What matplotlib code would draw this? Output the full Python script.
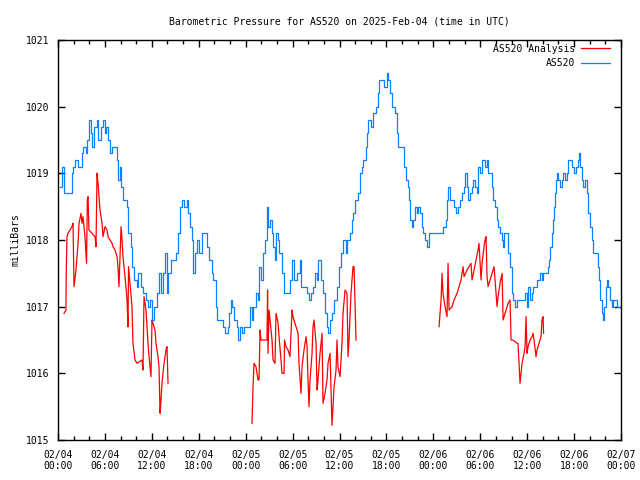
import matplotlib
matplotlib.use("Agg")
import matplotlib.pyplot as plt
import matplotlib.dates as mdates
import numpy as np

# hours after 2025-02-04 00:00 UTC, pressure in mbar
station_hours = [0.26, 0.51, 0.77, 1.66, 1.79, 1.92, 2.17, 2.56, 3.07, 3.20, 3.58, 3.71, 3.96, 4.22, 4.35, 4.60,
                 4.99, 5.12, 5.50, 5.76, 6.01, 6.14, 6.40, 6.65, 6.91, 7.29, 7.55, 7.67, 7.93, 8.06, 8.31, 8.83,
                 8.95, 9.34, 9.46, 9.72, 10.10, 10.23, 10.62, 10.87, 11.26, 11.51, 11.77, 12.02, 12.28, 12.66,
                 12.92, 13.17, 13.43, 13.69, 13.94, 14.07, 14.45, 14.71, 15.09, 15.35, 15.60, 15.86, 16.12, 16.50,
                 16.63, 16.88, 17.14, 17.27, 17.52, 17.78, 18.03, 18.42, 18.67, 19.06, 19.31, 19.70, 19.82, 20.21,
                 20.34, 20.98, 21.10, 21.36, 21.74, 21.87, 22.13, 22.25, 22.51, 22.89, 23.02, 23.28, 23.53, 23.79,
                 24.30, 24.56, 24.81, 24.94, 25.32, 25.58, 25.71, 25.96, 26.22, 26.48, 26.73, 26.86, 27.12, 27.37,
                 27.50, 27.75, 27.88, 28.14, 28.27, 28.52, 28.65, 28.91, 29.42, 29.67, 29.93, 30.18, 30.57, 30.95,
                 31.08, 31.46, 31.85, 32.10, 32.36, 32.61, 32.87, 33.13, 33.25, 33.64, 33.89, 34.15, 34.40, 34.53,
                 34.79, 35.04, 35.30, 35.68, 35.94, 36.19, 36.45, 36.71, 36.84, 36.96, 37.35, 37.60, 37.73, 37.99,
                 38.37, 38.63, 38.88, 39.01, 39.39, 39.52, 39.65, 40.03, 40.29, 40.67, 40.93, 41.06, 41.44, 41.70,
                 42.08, 42.21, 42.46, 42.72, 43.10, 43.36, 43.49, 44.00, 44.25, 44.51, 44.77, 44.89, 45.02, 45.28,
                 45.40, 45.66, 45.92, 46.04, 46.30, 46.56, 46.68, 46.94, 47.19, 47.45, 48.99, 49.24, 49.62, 49.75,
                 49.88, 50.14, 50.39, 50.65, 50.90, 51.16, 51.42, 51.67, 51.93, 52.05, 52.31, 52.44, 52.69, 52.95,
                 53.08, 53.33, 53.59, 53.72, 53.97, 54.23, 54.36, 54.61, 54.87, 55.00, 55.25, 55.51, 55.64, 55.89,
                 56.15, 56.28, 56.53, 56.79, 56.92, 57.04, 57.43, 57.56, 57.81, 58.07, 58.20, 58.45, 58.71, 58.83,
                 59.09, 59.47, 59.73, 59.98, 60.11, 60.37, 60.62, 60.75, 61.01, 61.26, 61.39, 61.65, 61.90, 62.03,
                 62.54, 62.67, 62.80, 62.93, 63.18, 63.31, 63.44, 63.57, 63.69, 63.82, 63.95, 64.21, 64.46, 64.59,
                 64.85, 65.10, 65.23, 65.48, 65.74, 66.00, 66.25, 66.51, 66.64, 66.77, 67.02, 67.15, 67.40, 67.66,
                 67.79, 68.04, 68.30, 68.43, 68.94, 69.07, 69.20, 69.32, 69.58, 69.71, 69.84, 70.09, 70.22, 70.35,
                 70.60, 70.86, 70.99, 71.24, 71.50, 71.76, 72.01]
station_mb = [1018.8, 1019.1, 1018.7, 1018.7, 1019.0, 1019.1, 1019.2, 1019.1, 1019.3, 1019.4, 1019.3, 1019.5,
              1019.8, 1019.6, 1019.4, 1019.7, 1019.8, 1019.5, 1019.7, 1019.8, 1019.6, 1019.7, 1019.5, 1019.3,
              1019.4, 1019.4, 1019.2, 1018.9, 1019.1, 1018.8, 1018.6, 1018.5, 1018.1, 1017.9, 1017.6, 1017.4,
              1017.3, 1017.5, 1017.3, 1017.2, 1017.1, 1017.0, 1017.1, 1016.8, 1017.0, 1017.2, 1017.5, 1017.2,
              1017.5, 1017.8, 1017.2, 1017.5, 1017.7, 1017.7, 1017.8, 1018.1, 1018.5, 1018.6, 1018.5, 1018.6,
              1018.4, 1018.2, 1018.0, 1017.5, 1017.8, 1018.0, 1017.8, 1018.1, 1018.1, 1017.9, 1017.7, 1017.5,
              1017.4, 1017.0, 1016.8, 1016.8, 1016.7, 1016.6, 1016.7, 1016.9, 1017.1, 1017.0, 1016.8, 1016.7,
              1016.5, 1016.7, 1016.6, 1016.7, 1016.7, 1017.0, 1016.8, 1017.0, 1017.2, 1017.1, 1017.6, 1017.4,
              1017.8, 1018.0, 1018.5, 1018.2, 1018.3, 1018.1, 1017.9, 1017.7, 1018.1, 1018.0, 1017.8, 1017.8,
              1017.5, 1017.2, 1017.2, 1017.4, 1017.7, 1017.4, 1017.5, 1017.7, 1017.3, 1017.3, 1017.2, 1017.1,
              1017.2, 1017.3, 1017.5, 1017.4, 1017.7, 1017.4, 1017.2, 1016.9, 1016.7, 1016.6, 1016.8, 1016.9,
              1017.1, 1017.3, 1017.6, 1017.8, 1018.0, 1018.0, 1017.8, 1018.0, 1018.1, 1018.3, 1018.4, 1018.6,
              1018.7, 1019.0, 1019.1, 1019.2, 1019.4, 1019.6, 1019.8, 1019.7, 1019.9, 1020.0, 1020.2, 1020.4,
              1020.4, 1020.3, 1020.5, 1020.4, 1020.2, 1020.0, 1019.9, 1019.6, 1019.4, 1019.4, 1019.1, 1018.9,
              1018.8, 1018.6, 1018.3, 1018.2, 1018.3, 1018.5, 1018.4, 1018.5, 1018.4, 1018.2, 1018.1, 1018.0,
              1017.9, 1018.1, 1018.1, 1018.2, 1018.3, 1018.6, 1018.8, 1018.6, 1018.6, 1018.5, 1018.4, 1018.5,
              1018.6, 1018.7, 1018.8, 1019.0, 1018.8, 1018.6, 1018.7, 1018.8, 1018.9, 1018.8, 1018.7, 1019.1,
              1019.0, 1019.2, 1019.2, 1019.1, 1019.2, 1019.0, 1019.0, 1018.8, 1018.6, 1018.5, 1018.3, 1018.2,
              1018.1, 1018.0, 1017.9, 1018.1, 1018.1, 1017.8, 1017.6, 1017.2, 1017.1, 1017.0, 1017.1, 1017.1,
              1017.1, 1017.1, 1017.2, 1017.0, 1017.3, 1017.1, 1017.2, 1017.3, 1017.3, 1017.4, 1017.4, 1017.5,
              1017.4, 1017.5, 1017.5, 1017.6, 1017.7, 1017.9, 1018.1, 1018.3, 1018.5, 1018.7, 1018.9, 1019.0,
              1018.9, 1018.8, 1018.9, 1019.0, 1018.9, 1019.0, 1019.2, 1019.2, 1019.1, 1019.0, 1019.1, 1019.2,
              1019.3, 1019.1, 1018.9, 1018.8, 1018.9, 1018.7, 1018.4, 1018.2, 1018.0, 1017.8, 1017.8, 1017.6,
              1017.4, 1017.1, 1016.9, 1016.8, 1017.0, 1017.3, 1017.4, 1017.3, 1017.1, 1017.0, 1017.1, 1017.1,
              1017.0, 1017.0, 1017.1]

# analysis values come in three pieces with gaps between them
analysis_hours = [
    [0.77, 1.02, 1.05, 1.15, 1.28, 1.53, 1.79, 1.92, 2.05, 2.30, 2.56, 2.69, 2.94, 3.07, 3.20, 3.45, 3.65, 3.75,
     3.84, 3.96, 4.35, 4.73, 4.86, 4.99, 5.12, 5.37, 5.63, 5.76, 6.01, 6.27, 6.40, 6.65, 6.91, 7.03, 7.29, 7.55,
     7.67, 7.80, 8.06, 8.19, 8.31, 8.57, 8.83, 8.95, 9.02, 9.21, 9.46, 9.59, 9.85, 10.10, 10.74, 10.87, 11.00,
     11.26, 11.51, 11.64, 11.89, 12.02, 12.15, 12.41, 12.53, 12.79, 12.92, 13.05, 13.17, 13.30, 13.56, 13.81,
     13.94, 14.07],
    [24.81, 24.94, 25.07, 25.32, 25.45, 25.58, 25.71, 25.84, 25.96, 26.48, 26.73, 26.80, 26.86, 26.99, 27.12,
     27.37, 27.50, 27.75, 27.88, 28.14, 28.27, 28.52, 28.65, 28.91, 28.97, 29.16, 29.42, 29.67, 29.93, 30.05,
     30.31, 30.57, 30.70, 30.82, 31.08, 31.21, 31.46, 31.72, 31.85, 31.97, 32.10, 32.23, 32.49, 32.61, 32.74,
     33.00, 33.13, 33.25, 33.51, 33.77, 33.89, 34.15, 34.40, 34.53, 34.79, 35.04, 35.17, 35.30, 35.56, 35.68,
     35.81, 36.07, 36.32, 36.45, 36.71, 36.96, 37.09, 37.22, 37.47, 37.73, 37.86, 38.11],
    [48.73, 48.99, 49.11, 49.24, 49.50, 49.75, 49.88, 50.01, 50.39, 50.65, 51.03, 51.29, 51.54, 51.80, 51.93,
     52.31, 52.57, 52.82, 52.95, 53.21, 53.46, 53.72, 53.84, 54.10, 54.23, 54.48, 54.61, 54.74, 54.87, 55.00,
     55.25, 55.51, 55.76, 56.02, 56.15, 56.28, 56.53, 56.79, 56.85, 56.92, 57.17, 57.43, 57.56, 57.81, 57.94,
     58.20, 58.71, 58.83, 58.96, 59.09, 59.22, 59.35, 59.60, 59.73, 59.86, 59.98, 60.11, 60.37, 60.62, 60.75,
     60.88, 61.13, 61.26, 61.52, 61.77, 61.90, 62.03, 62.10],
]
analysis_mb = [
    [1016.9, 1016.95, 1017.5, 1018.05, 1018.1, 1018.15, 1018.2, 1018.25, 1017.3, 1017.55, 1017.95, 1018.25,
     1018.4, 1018.25, 1018.35, 1018.05, 1017.65, 1018.6, 1018.65, 1018.15, 1018.1, 1018.05, 1017.9, 1019.0,
     1018.85, 1018.45, 1018.25, 1018.05, 1018.2, 1018.15, 1018.05, 1018.0, 1017.95, 1017.9, 1017.85, 1017.75,
     1017.6, 1017.3, 1018.2, 1018.0, 1017.75, 1017.45, 1017.1, 1016.7, 1017.6, 1017.35, 1017.0, 1016.45,
     1016.2, 1016.15, 1016.2, 1016.05, 1017.15, 1016.95, 1016.45, 1016.25, 1015.95, 1016.8, 1016.75, 1016.65,
     1016.45, 1016.25, 1016.1, 1015.4, 1015.6, 1015.85, 1016.15, 1016.35, 1016.4, 1015.85],
    [1015.25, 1015.8, 1016.15, 1016.1, 1016.0, 1015.9, 1015.9, 1016.65, 1016.5, 1016.5, 1016.5, 1017.25,
     1016.3, 1016.95, 1016.8, 1016.5, 1016.2, 1016.15, 1016.9, 1016.75, 1016.55, 1016.2, 1016.0, 1016.0,
     1016.5, 1016.4, 1016.35, 1016.25, 1016.95, 1016.85, 1016.75, 1016.65, 1016.6, 1016.15, 1015.7, 1016.1,
     1016.35, 1016.55, 1016.4, 1015.9, 1015.5, 1015.9, 1016.3, 1016.7, 1016.8, 1016.45, 1015.75, 1015.9,
     1016.3, 1016.6, 1015.55, 1015.7, 1015.9, 1016.15, 1016.3, 1015.22, 1015.5, 1015.8, 1016.05, 1016.5,
     1016.1, 1015.95, 1016.45, 1016.9, 1017.25, 1017.2, 1016.25, 1016.5, 1017.2, 1017.6, 1017.6, 1016.5],
    [1016.7, 1017.1, 1017.5, 1017.2, 1017.0, 1016.85, 1017.65, 1016.95, 1017.0, 1017.1, 1017.2, 1017.3,
     1017.4, 1017.6, 1017.45, 1017.55, 1017.6, 1017.65, 1017.4, 1017.55, 1017.7, 1017.85, 1017.95, 1017.4,
     1017.65, 1017.9, 1018.0, 1018.05, 1017.45, 1017.3, 1017.4, 1017.5, 1017.6, 1017.2, 1017.0, 1017.15,
     1017.35, 1017.5, 1017.2, 1016.8, 1016.9, 1017.0, 1017.05, 1017.1, 1016.5, 1016.5, 1016.45, 1016.45,
     1016.15, 1015.85, 1016.0, 1016.15, 1016.3, 1016.4, 1016.85, 1016.3, 1016.4, 1016.5, 1016.55, 1016.6,
     1016.5, 1016.25, 1016.35, 1016.45, 1016.55, 1016.8, 1016.85, 1016.6],
]

start = np.datetime64('2025-02-04T00:00')


def to_time(hours):
    return start + (np.array(hours) * 3600).astype('timedelta64[s]')


plt.rcParams['font.family'] = 'DejaVu Sans Mono'
plt.rcParams['font.size'] = 7

fig = plt.figure(figsize=(6.4, 4.8), dpi=100)
ax = fig.add_axes([58 / 640, 40 / 480, 563 / 640, 400 / 480])

for i in range(len(analysis_hours)):
    ax.plot(to_time(analysis_hours[i]), analysis_mb[i], color='#ff0000', linewidth=0.9,
            label='AS520 Analysis' if i == 0 else None)
ax.plot(to_time(station_hours), station_mb, color='#0a80ff', linewidth=0.9,
        drawstyle='steps-post', label='AS520')

ax.set_xlim(start, start + np.timedelta64(72, 'h'))
ax.set_ylim(1015, 1021)
ax.set_yticks(range(1015, 1022))
ax.xaxis.set_major_locator(mdates.HourLocator(byhour=range(0, 24, 6)))
ax.xaxis.set_minor_locator(mdates.HourLocator(interval=2))
ax.xaxis.set_major_formatter(mdates.DateFormatter('%m/%d\n%H:%M'))

ax.tick_params(which='both', direction='in', top=True, right=True, colors='black')
ax.tick_params(which='major', length=5, width=1, pad=7)
ax.tick_params(which='minor', length=3, width=1)
ax.tick_params(axis='y', pad=6)
for s in ax.spines.values():
    s.set_linewidth(1)

ax.set_ylabel('milliBars', labelpad=4)
ax.set_title('Barometric Pressure for AS520 on 2025-Feb-04 (time in UTC)', fontsize=7, pad=11)
ax.legend(loc='upper right', bbox_to_anchor=(1 - 7 / 563, 1.0), frameon=False, markerfirst=False,
          handlelength=3.0, labelspacing=0.45, borderaxespad=0, handletextpad=0.6)

fig.savefig('out.png', dpi=100)
